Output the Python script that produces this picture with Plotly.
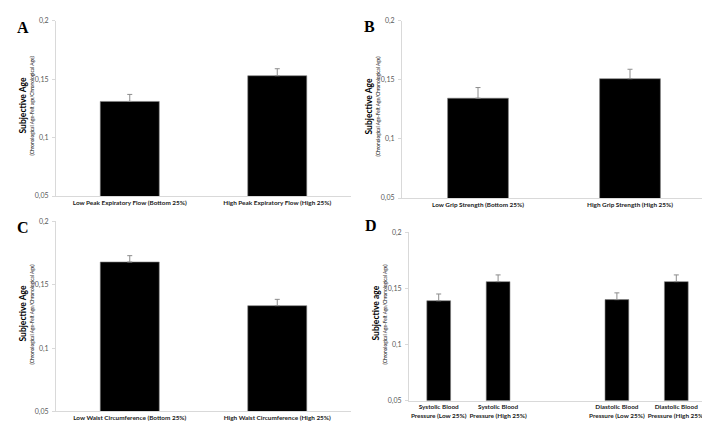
import plotly.graph_objects as go

# ---- data ----
cats_a = ["Low Peak Expiratory Flow (Bottom 25%)", "High Peak Expiratory Flow (High 25%)"]
vals_a = [0.131, 0.153]
err_a = [0.006, 0.006]

cats_b = ["Low Grip Strength (Bottom 25%)", "High Grip Strength (High 25%)"]
vals_b = [0.1345, 0.151]
err_b = [0.009, 0.008]

cats_c = ["Low Waist Circumference (Bottom 25%)", "High Waist Circumference (High 25%)"]
vals_c = [0.168, 0.1335]
err_c = [0.005, 0.005]

cats_d = ["Systolic Blood<br>Pressure (Low 25%)", "Systolic Blood<br>Pressure (High 25%)", "",
          "Diastolic Blood<br>Pressure (Low 25%)", "Diastolic Blood<br>Pressure (High 25%)"]
vals_d = [0.139, 0.156, None, 0.140, 0.156]
err_d = [0.006, 0.006, 0, 0.006, 0.006]

ytick_vals = [0.05, 0.1, 0.15, 0.2]
ytick_text = ["0,05", "0,1", "0,15", "0,2"]

titles = ["Subjective Age", "Subjective Age", "Subjective Age", "Subjective age"]
subtitles = ["(Chronological Age-Felt age/Chronological Age)",
             "(Chronological Age-Felt Age/Chronological Age)",
             "(Chronological Age-Felt Age/Chronological Age)",
             "(Chronological Age-Felt Age/Chronological Age)"]
letters = ["A", "B", "C", "D"]

W, H = 710, 425

def px(x):
    return x / W

def py(y):
    return 1 - y / H

# panel pixel boxes: (x0, x1, ytop, ybottom)
boxes = [(48, 343, 8, 187), (394, 698, 8, 189), (48, 343, 213, 407), (401, 698, 224, 396)]
letter_pos = [(15, 15), (361, 14), (15, 219), (363, 217)]

fig = go.Figure()

panels = [(cats_a, vals_a, err_a), (cats_b, vals_b, err_b), (cats_c, vals_c, err_c), (cats_d, vals_d, err_d)]

tick_font = dict(family="Lato", size=6.4, color="#1a1a1a", weight="bold")
layout = {}
for i, (cats, vals, errs) in enumerate(panels):
    n = i + 1
    xs = [k for k in range(len(cats))]
    fig.add_trace(go.Bar(
        x=xs, y=vals, width=0.4,
        marker=dict(color="black", line=dict(color="#808080", width=0.6)),
        error_y=dict(type="data", symmetric=False, array=errs, arrayminus=[0] * len(errs),
                     color="#8c8c8c", thickness=1, width=2.5),
        xaxis=f"x{n}" if n > 1 else "x", yaxis=f"y{n}" if n > 1 else "y",
        showlegend=False,
    ))
    x0, x1, yt, yb = boxes[i]
    tv = [k for k, c in enumerate(cats) if c != ""]
    tt = [c for c in cats if c != ""]
    layout[f"xaxis{n if n > 1 else ''}"] = dict(
        domain=[px(x0), px(x1)], range=[-0.5, len(cats) - 0.5],
        tickvals=tv, ticktext=tt, showline=True, linecolor="#d9d9d9", linewidth=1,
        ticks="", showgrid=False, zeroline=False, tickfont=tick_font,
        anchor=f"y{n if n > 1 else ''}", fixedrange=True,
    )
    layout[f"yaxis{n if n > 1 else ''}"] = dict(
        domain=[py(yb), py(yt)], range=[0.05, 0.2],
        tickvals=ytick_vals, ticktext=ytick_text,
        showline=True, linecolor="#d9d9d9", linewidth=1,
        ticks="outside", ticklen=3, tickcolor="#d9d9d9", ticklabelstandoff=2,
        showgrid=False, zeroline=False,
        tickfont=dict(family="Lato", size=7, color="#595959"),
        anchor=f"x{n if n > 1 else ''}", fixedrange=True,
    )

annotations = []
shapes = []
for i in range(4):
    x0, x1, yt, yb = boxes[i]
    ymid = (yt + yb) / 2
    annotations.append(dict(
        x=px(x0 - 33), y=py(ymid - 3), xref="paper", yref="paper", text=f"<b>{titles[i]}</b>",
        textangle=-90, showarrow=False, font=dict(family="Lato", size=8.5, color="#000000"),
        xanchor="center", yanchor="middle"))
    annotations.append(dict(
        x=px(x0 - 24), y=py(ymid - 3), xref="paper", yref="paper", text=subtitles[i],
        textangle=-90, showarrow=False, font=dict(family="Lato", size=4.8, color="#000000"),
        xanchor="center", yanchor="middle"))
    lx, ly = letter_pos[i]
    annotations.append(dict(
        x=px(lx), y=py(ly), xref="paper", yref="paper", text=f"<b>{letters[i]}</b>",
        showarrow=False, font=dict(family="Liberation Serif", size=16, color="#000000"),
        xanchor="center", yanchor="middle"))

# outer frame lines (right and bottom)
shapes.append(dict(type="line", xref="paper", yref="paper", x0=px(709), x1=px(709), y0=0, y1=1,
                   line=dict(color="#a6a6a6", width=1)))
shapes.append(dict(type="line", xref="paper", yref="paper", x0=0, x1=1, y0=py(423.5), y1=py(423.5),
                   line=dict(color="#a6a6a6", width=1)))

fig.update_layout(
    width=W, height=H, margin=dict(l=0, r=0, t=0, b=0),
    paper_bgcolor="white", plot_bgcolor="white",
    annotations=annotations, shapes=shapes, bargap=0.6,
    **layout,
)

fig.write_html("out.html")
